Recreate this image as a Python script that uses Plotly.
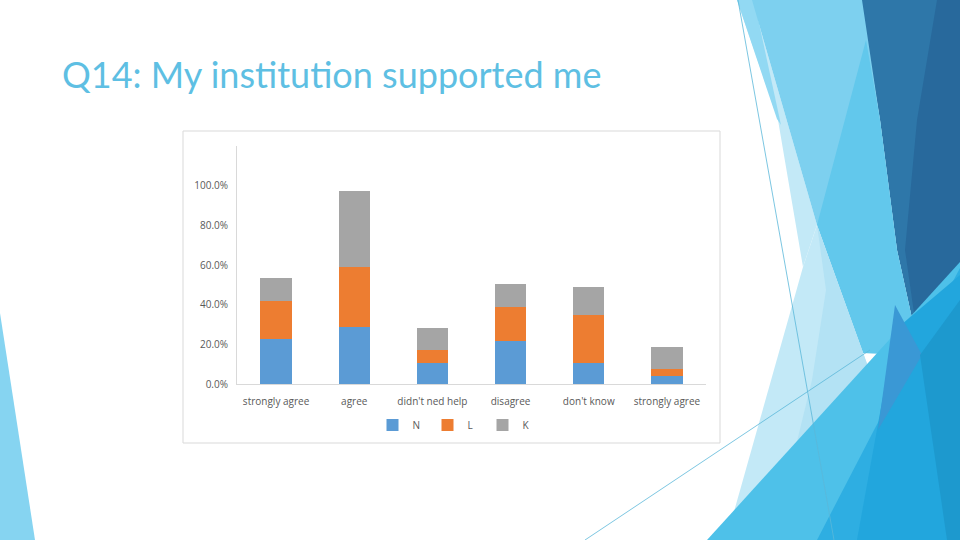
import plotly.graph_objects as go

# ---- data ----
categories = ["strongly agree", "agree", "didn't ned help", "disagree", "don't know", "strongly agree"]
series_names = ["N", "L", "K"]
values_N = [0.228, 0.285, 0.107, 0.218, 0.107, 0.042]
values_L = [0.188, 0.303, 0.063, 0.168, 0.242, 0.032]
values_K = [0.120, 0.387, 0.114, 0.120, 0.142, 0.114]
y_ticks = [0.0, 0.2, 0.4, 0.6, 0.8, 1.0]
title_text = "Q14: My institution supported me"

colors = {"N": "#5B9BD5", "L": "#ED7D31", "K": "#A5A5A5"}

W, H = 960, 540


def px(x, y):
    return x / W, 1 - y / H


def poly(points, color, opacity=1.0):
    parts = []
    for i, (x, y) in enumerate(points):
        fx, fy = px(x, y)
        parts.append(("M" if i == 0 else "L") + f"{fx:.5f},{fy:.5f}")
    return dict(type="path", xref="paper", yref="paper", path=" ".join(parts) + " Z",
                fillcolor=color, opacity=opacity, line=dict(width=0), layer="below")


def seg(p0, p1, color, width=0.8):
    x0, y0 = px(*p0)
    x1, y1 = px(*p1)
    return dict(type="line", xref="paper", yref="paper", x0=x0, y0=y0, x1=x1, y1=y1,
                line=dict(color=color, width=width), layer="below")


xs = list(range(len(categories)))
fig = go.Figure()
for name, vals in zip(series_names, [values_N, values_L, values_K]):
    fig.add_trace(go.Bar(x=xs, y=vals, name=name, marker=dict(color=colors[name], line=dict(width=0))))

shapes = []
# decorative background (slide theme)
shapes.append(poly([(0, 313), (0, 540), (35, 540)], "#86D4F1"))
shapes.append(poly([(860, 0), (960, 0), (960, 300), (920, 355), (897, 250), (880, 120)], "#2E77A9"))
shapes.append(poly([(937, 0), (960, 0), (960, 300), (920, 355), (905, 250), (917, 120)], "#28699C"))
shapes.append(poly([(737, 0), (752, 0), (817, 225), (803, 267), (778, 120)], "#C3E9F7"))
shapes.append(poly([(737, 0), (754, 0), (781, 125), (777, 119)], "#92D9F3"))
shapes.append(poly([(752, 0), (862, 0), (880, 120), (897, 250), (920, 355), (863, 353), (817, 225)], "#7DD0EF"))
shapes.append(poly([(866, 40), (880, 120), (897, 250), (920, 355), (863, 353), (817, 225)], "#62C8EC"))
shapes.append(poly([(803, 267), (817, 225), (870, 372), (726, 540)], "#C3E9F7"))
shapes.append(poly([(817, 225), (870, 372), (790, 470), (812, 380), (826, 290)], "#B3E2F4"))
shapes.append(poly([(707, 540), (960, 262), (960, 540)], "#4EC1E9"))
shapes.append(poly([(960, 268), (960, 540), (817, 540), (873, 432)], "#2EAEE2"))
shapes.append(poly([(895, 330), (960, 275), (960, 540), (857, 540)], "#22A6DD"))
shapes.append(poly([(895, 305), (922, 355), (878, 430)], "#3A98D5"))
shapes.append(poly([(920, 355), (960, 300), (960, 540), (947, 540)], "#1D99CE"))
shapes.append(seg((738, 0), (834, 540), "#5BB8D9"))
shapes.append(seg((585, 540), (870, 350), "#5BB8D9"))
# chart box
bx0, by0 = px(183, 443)
bx1, by1 = px(720, 131)
shapes.append(dict(type="rect", xref="paper", yref="paper", x0=bx0, y0=by0, x1=bx1, y1=by1,
                   fillcolor="white", line=dict(color="#D9D9D9", width=1), layer="below"))

x_dom = [237 / W, 706 / W]
y_dom = [1 - 384 / H, 1 - 146 / H]

fig.update_layout(
    width=W, height=H,
    margin=dict(l=0, r=0, t=0, b=0),
    paper_bgcolor="white", plot_bgcolor="rgba(0,0,0,0)",
    barmode="stack", bargap=0.6,
    shapes=shapes,
    font=dict(family="Open Sans", color="#595959", size=10),
    xaxis=dict(domain=x_dom, tickmode="array", tickvals=xs, ticktext=categories,
               range=[-0.5, len(categories) - 0.5], showline=True, linecolor="#D9D9D9", linewidth=1,
               showgrid=False, zeroline=False, ticks="", automargin=False, ticklabelstandoff=8,
               tickfont=dict(size=10, color="#595959")),
    yaxis=dict(domain=y_dom, range=[0, 1.2], tickmode="array", tickvals=y_ticks, tickformat=".1%",
               showline=True, linecolor="#D9D9D9", linewidth=1, showgrid=False, zeroline=False,
               ticks="", automargin=False, ticklabelstandoff=6,
               tickfont=dict(size=10, color="#595959")),
    legend=dict(orientation="h", x=455 / W, xanchor="center", y=1 - 425 / H, yanchor="middle",
                font=dict(size=10, color="#595959"), bgcolor="rgba(0,0,0,0)", itemwidth=30,
                entrywidth=10, entrywidthmode="pixels", traceorder="normal"),
    annotations=[dict(text=title_text, xref="paper", yref="paper", x=60 / W, y=1 - 74 / H,
                      xanchor="left", yanchor="middle", showarrow=False,
                      font=dict(family="Lato", size=36, color="#5EBFE3"))],
)

fig.write_html("out.html", config={"displayModeBar": False},
               post_script="document.body.style.margin='0';")
